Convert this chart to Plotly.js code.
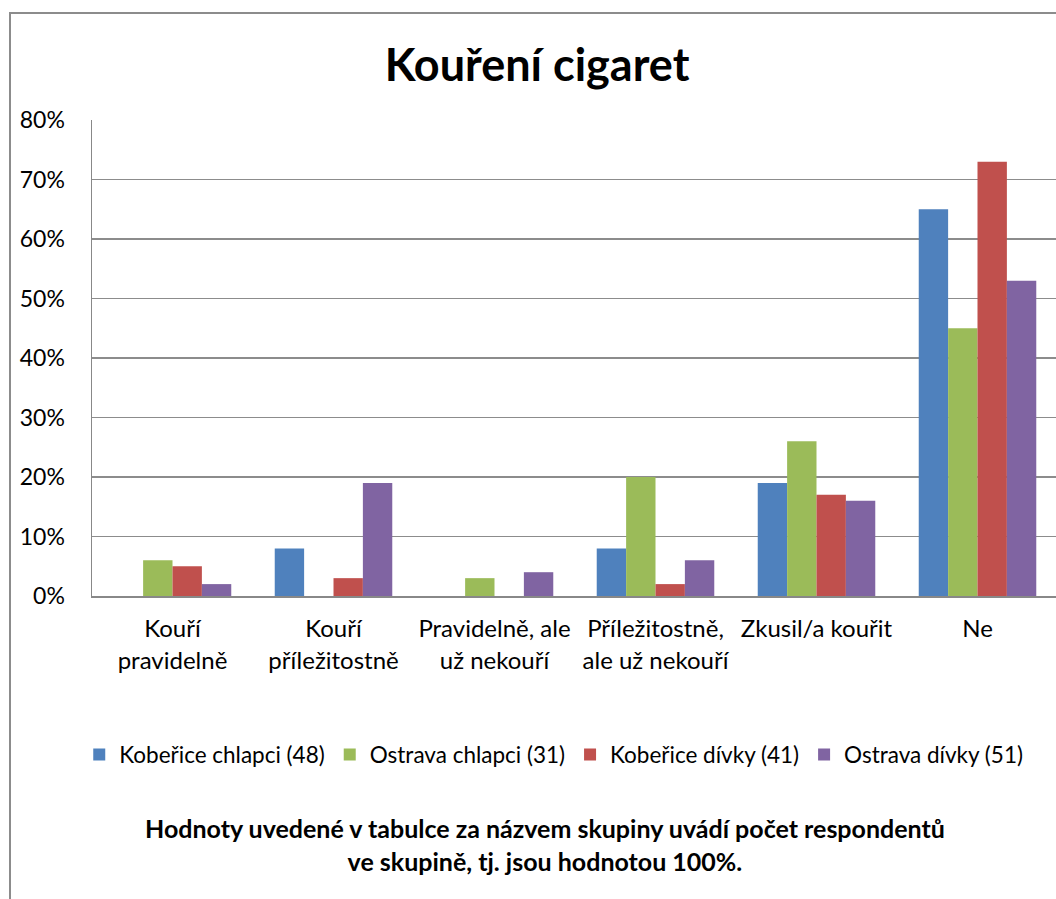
<!DOCTYPE html>
<html>
<head>
<meta charset="utf-8">
<script src="https://cdn.plot.ly/plotly-3.0.1.min.js"></script>
<style>
  html, body { margin:0; padding:0; background:#fff; overflow:hidden; width:1056px; height:899px; }
  #frame { position:absolute; left:9px; top:12px; width:1100px; height:950px; border:2px solid #8c8c8c; box-sizing:border-box; }
  #chart { position:absolute; left:0; top:0; width:1100px; height:899px; }
</style>
</head>
<body>
<div id="frame"></div>
<div id="chart"></div>
<script>
const categories = ["Kouří<br>pravidelně", "Kouří<br>příležitostně", "Pravidelně, ale<br>už nekouří", "Příležitostně,<br>ale už nekouří", "Zkusil/a kouřit", "Ne"];
const seriesNames = ["Kobeřice chlapci (48)", "Ostrava chlapci (31)", "Kobeřice dívky (41)", "Ostrava dívky (51)"];
const kobericeChlapci = [0, 0.08, 0, 0.08, 0.19, 0.65];
const ostravaChlapci  = [0.06, 0, 0.03, 0.20, 0.26, 0.45];
const kobericeDivky   = [0.05, 0.03, 0, 0.02, 0.17, 0.73];
const ostravaDivky    = [0.02, 0.19, 0.04, 0.06, 0.16, 0.53];
const tickVals = [0, 0.1, 0.2, 0.3, 0.4, 0.5, 0.6, 0.7, 0.8];
const tickText = ["0%", "10%", "20%", "30%", "40%", "50%", "60%", "70%", "80%"];
const titleText = "Kouření cigaret";
const noteText = "Hodnoty uvedené v tabulce za názvem skupiny uvádí počet respondentů<br>ve skupině, tj. jsou hodnotou 100%.";

const colors = ["#4F81BD", "#9BBB59", "#C0504D", "#8064A2"];
const allValues = [kobericeChlapci, ostravaChlapci, kobericeDivky, ostravaDivky];
const FONT = "Lato, 'Open Sans', sans-serif";

const data = allValues.map((vals, i) => ({
  type: "bar",
  name: seriesNames[i],
  x: categories,
  y: vals,
  marker: { color: colors[i], line: { width: 0 } },
  hoverinfo: "none"
}));

const layout = {
  width: 1100,
  height: 899,
  margin: { l: 92, r: 42, t: 120, b: 303, pad: 0, autoexpand: false },
  paper_bgcolor: "rgba(0,0,0,0)",
  plot_bgcolor: "#fff",
  barmode: "group",
  bargap: 0.27,
  bargroupgap: 0,
  title: {
    text: "<b>" + titleText + "</b>",
    font: { family: FONT, size: 45, color: "#000" },
    xref: "container", x: 537 / 1100, xanchor: "center",
    yref: "container", y: 1 - 65 / 899, yanchor: "middle"
  },
  font: { family: FONT, size: 22, color: "#000" },
  xaxis: {
    type: "category",
    showline: true, linecolor: "#888", linewidth: 1.5,
    ticks: "", showgrid: false, tickangle: 0, automargin: false,
    tickfont: { family: FONT, size: 24, color: "#000" },
    ticklabelstandoff: 11
  },
  yaxis: {
    range: [0, 0.8],
    tickvals: tickVals, ticktext: tickText,
    showline: true, linecolor: "#888", linewidth: 1.5,
    showgrid: true, gridcolor: "#8c8c8c", gridwidth: 1.5,
    zeroline: false, ticks: "", automargin: false,
    tickfont: { family: FONT, size: 23, color: "#000" },
    ticklabelstandoff: 21
  },
  showlegend: true,
  legend: {
    orientation: "h",
    x: 0.478, xanchor: "center",
    y: -0.334, yanchor: "middle",
    font: { family: FONT, size: 22.5, color: "#000" },
    itemwidth: 30,
    traceorder: "normal"
  },
  annotations: [{
    text: "<b>" + noteText + "</b>",
    xref: "paper", yref: "paper",
    x: 0.469, xanchor: "center",
    y: -0.522, yanchor: "middle",
    showarrow: false,
    align: "center",
    font: { family: FONT, size: 25, color: "#000" }
  }]
};

Plotly.newPlot("chart", data, layout, { displayModeBar: false, staticPlot: true });
</script>
</body>
</html>
